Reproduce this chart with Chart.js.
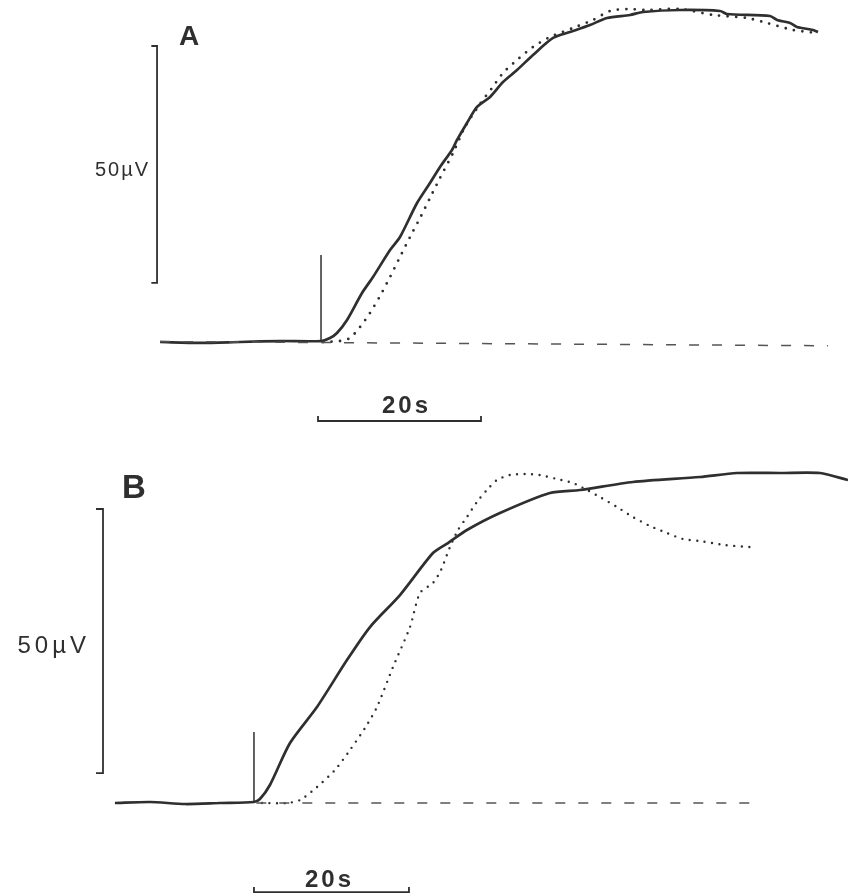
<!DOCTYPE html>
<html lang="en">
<head>
<meta charset="utf-8" />
<title>Evoked potential traces</title>
<script src="https://cdn.jsdelivr.net/npm/chart.js@4.4.1/dist/chart.umd.min.js"></script>
<style>
	body { margin: 0; background: #fff; }
	#wrap { position: relative; width: 848px; height: 895px; }
	canvas { position: absolute; left: 0; }
	#panelA { top: 0; }
	#panelB { top: 440px; }
</style>
</head>
<body>
<div id="wrap">
	<canvas id="panelA" width="848" height="440"></canvas>
	<canvas id="panelB" width="848" height="455"></canvas>
</div>
<script>
// time in s from the stimulus, amplitude in µV

// Panel A
const solidA_t = [-19.75, -14.85, -9.94, -5.03, 0, 1.1, 1.96, 3.19, 5.03, 6.38, 8.47, 9.69, 11.78, 13.37, 14.6, 16.07, 16.69, 17.91, 19.14, 20.74, 22.33, 24.05, 26.01, 28.47, 30.55, 33.01, 35.09, 37.91, 39.51, 44.05, 48.96, 49.82, 55.09, 55.95, 57.55, 58.4, 60.37, 60.98];
const solidA_v = [0, -0.2, 0, 0.2, 0.2, 0.84, 1.9, 4.64, 10.34, 13.71, 19.41, 22.15, 29.32, 33.54, 36.92, 40.51, 42.62, 46.2, 49.58, 51.69, 54.85, 57.38, 60.55, 64.14, 65.4, 66.88, 68.35, 68.99, 69.62, 70.04, 69.83, 69.2, 68.78, 67.93, 67.3, 66.46, 65.82, 65.4];
const dottedA_t = [0.25, 2.33, 3.56, 4.79, 6.01, 7.24, 8.47, 9.69, 10.92, 12.15, 13.37, 14.6, 16.2, 17.67, 19.51, 20.98, 22.33, 24.05, 26.01, 28.1, 30.92, 33.37, 35.46, 37.55, 40.0, 44.05, 48.1, 52.27, 54.72, 57.91, 60.86];
const dottedA_v = [0, 0.21, 0.84, 3.16, 6.12, 9.7, 13.71, 17.93, 22.15, 26.16, 30.38, 34.6, 39.87, 45.36, 50.21, 53.59, 56.75, 59.49, 62.24, 64.35, 66.24, 67.93, 69.83, 70.25, 70.04, 70.25, 68.99, 68.35, 67.3, 65.82, 65.19];
const baseA_t = [-19.75, 62.2];
const baseA_v = [0.1, -0.8];
const stimA_v = 18.35;

// Panel B
const solidB_t = [-17.94, -13.42, -8.9, -4.39, 0, 0.77, 2.06, 4.65, 8.13, 12.0, 14.97, 18.84, 23.1, 25.03, 27.48, 31.74, 38.19, 42.06, 48.9, 57.55, 62.32, 67.87, 73.03, 76.65];
const solidB_v = [0, 0.19, -0.19, 0, 0.19, 0.76, 3.41, 11.36, 18.18, 27.08, 33.33, 39.39, 47.35, 49.24, 51.7, 54.92, 58.71, 59.28, 60.8, 61.74, 62.5, 62.5, 62.5, 61.17];
const dottedB_t = [1.03, 4.26, 5.94, 8.13, 10.45, 12.39, 14.32, 15.87, 17.94, 20.13, 21.42, 23.1, 24.13, 25.29, 26.32, 27.48, 28.77, 30.06, 31.35, 33.03, 34.97, 36.9, 39.1, 41.16, 42.97, 44.65, 46.84, 48.9, 51.1, 53.29, 55.35, 57.55, 60.77, 64.0];
const dottedB_v = [0, 0, 0.57, 3.03, 6.25, 10.04, 14.2, 18.18, 25.76, 33.33, 39.77, 41.67, 44.13, 48.48, 51.7, 54.17, 57.01, 59.28, 61.17, 62.12, 62.31, 62.12, 61.36, 60.61, 59.28, 57.95, 56.06, 54.17, 52.46, 51.14, 50.0, 49.62, 48.86, 48.48];
const baseB_t = [0.3, 64.0];
const baseB_v = [0, 0];
const stimB_v = 13.45;

// scale bars
const barAmp = 50; // µV
const barTime = 20; // s
const ampLabel = "50µV";
const timeLabel = "20s";

const ink = "#2f2f2f";

function pts(ts, vs) {
	return ts.map((t, i) => ({ x: t, y: vs[i] }));
}

// bracket "]" for amplitude, "L_|" for time
function ampBar(t, v0, tick) {
	return [
		{ x: t - tick, y: v0 + barAmp },
		{ x: t, y: v0 + barAmp },
		{ x: t, y: v0 },
		{ x: t - tick, y: v0 },
	];
}
function timeBar(t0, v, tick) {
	return [
		{ x: t0, y: v + tick },
		{ x: t0, y: v },
		{ x: t0 + barTime, y: v },
		{ x: t0 + barTime, y: v + tick },
	];
}

const labelPlugin = {
	id: "labels",
	afterDatasetsDraw(chart, args, opts) {
		const { ctx } = chart;
		const sx = chart.scales.x;
		const sy = chart.scales.y;
		ctx.save();
		ctx.fillStyle = ink;
		ctx.textBaseline = "alphabetic";
		for (const l of opts.items) {
			ctx.font = l.font;
			ctx.letterSpacing = l.spacing || "0px";
			ctx.textAlign = l.align || "left";
			ctx.fillText(l.text, sx.getPixelForValue(l.t), sy.getPixelForValue(l.v));
		}
		ctx.restore();
	},
};

function line(data, extra) {
	return Object.assign(
		{
			data,
			showLine: true,
			pointRadius: 0,
			borderColor: ink,
			borderWidth: 1.6,
			tension: 0,
			clip: false,
		},
		extra
	);
}

function makePanel(canvas, cfg) {
	return new Chart(canvas, {
		type: "scatter",
		data: {
			datasets: [
				line(pts(cfg.base_t, cfg.base_v), { borderColor: "#555", borderWidth: 1.5, borderDash: [10, 13] }),
				line(pts(cfg.solid_t, cfg.solid_v), { borderWidth: 2.7, tension: 0.25 }),
				line(pts(cfg.dot_t, cfg.dot_v), {
					borderWidth: cfg.dotSize,
					borderDash: [0, cfg.dotGap],
					borderCapStyle: "round",
					tension: 0.25,
				}),
				line([{ x: 0, y: 0 }, { x: 0, y: cfg.stim }], { borderWidth: 1.5 }),
				line(cfg.ampBar, { borderWidth: 1.8 }),
				line(cfg.timeBar, { borderWidth: 1.8 }),
			],
		},
		options: {
			responsive: false,
			animation: false,
			events: [],
			layout: { padding: 0 },
			scales: {
				x: { type: "linear", display: false, min: cfg.xr[0], max: cfg.xr[1] },
				y: { type: "linear", display: false, min: cfg.yr[0], max: cfg.yr[1] },
			},
			plugins: {
				legend: { display: false },
				tooltip: { enabled: false },
				labels: { items: cfg.labels },
			},
		},
		plugins: [labelPlugin],
	});
}

makePanel(document.getElementById("panelA"), {
	xr: [-39.39, 64.66],
	yr: [-20.68, 72.15],
	base_t: baseA_t, base_v: baseA_v,
	solid_t: solidA_t, solid_v: solidA_v,
	dot_t: dottedA_t, dot_v: dottedA_v,
	dotSize: 2.8, dotGap: 8.5,
	stim: stimA_v,
	ampBar: ampBar(-20.12, 12.45, 0.7),
	timeBar: timeBar(-0.37, -16.67, 1.05),
	labels: [
		{ text: "A", t: -17.42, v: 62.76, font: "bold 28px 'Liberation Sans', Arial, sans-serif" },
		{ text: ampLabel, t: -20.98, v: 35.02, align: "right", spacing: "2px", font: "20px 'Liberation Sans', Arial, sans-serif" },
		{ text: timeLabel, t: 7.48, v: -14.98, spacing: "3px", font: "bold 24px 'Liberation Sans', Arial, sans-serif" },
	],
});

makePanel(document.getElementById("panelB"), {
	xr: [-32.77, 76.65],
	yr: [-17.42, 68.75],
	base_t: baseB_t, base_v: baseB_v,
	solid_t: solidB_t, solid_v: solidB_v,
	dot_t: dottedB_t, dot_v: dottedB_v,
	dotSize: 2.4, dotGap: 7.5,
	stim: stimB_v,
	ampBar: ampBar(-19.48, 5.68, 0.9),
	timeBar: timeBar(0, -16.86, 0.95),
	labels: [
		{ text: "B", t: -17.03, v: 57.77, font: "bold 33px 'Liberation Sans', Arial, sans-serif" },
		{ text: ampLabel, t: -21.16, v: 28.41, align: "right", spacing: "4px", font: "24px 'Liberation Sans', Arial, sans-serif" },
		{ text: timeLabel, t: 6.58, v: -15.91, spacing: "3px", font: "bold 24px 'Liberation Sans', Arial, sans-serif" },
	],
});
</script>
</body>
</html>
